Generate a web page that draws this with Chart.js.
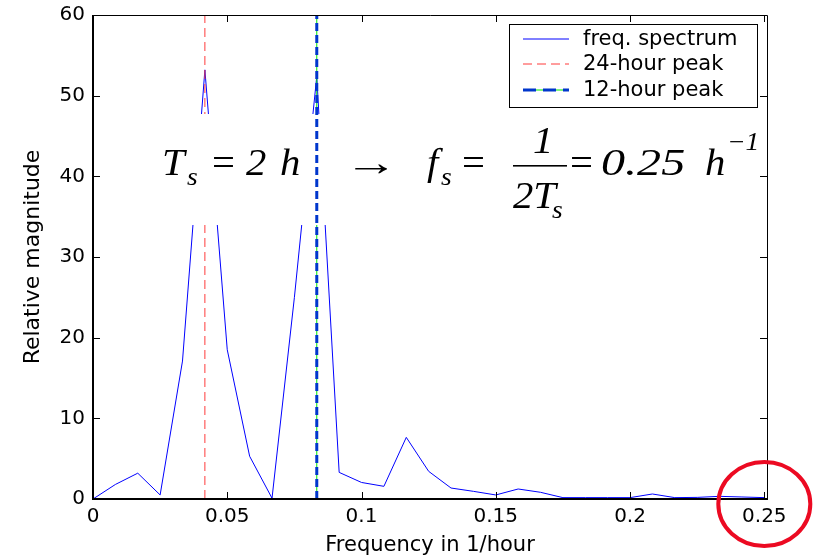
<!DOCTYPE html>
<html>
<head>
<meta charset="utf-8">
<script src="https://cdn.jsdelivr.net/npm/chart.js@4.4.1/dist/chart.umd.min.js"></script>
<style>
  body { margin: 0; background: #fff; }
</style>
</head>
<body>
<canvas id="spectrum" width="816" height="558"></canvas>
<script>
// FFT bins (1/hour) and their magnitude
const freqs = [0, 0.00833, 0.01667, 0.025, 0.03333, 0.04167, 0.05, 0.05833, 0.06667, 0.075,
  0.08333, 0.09167, 0.1, 0.10833, 0.11667, 0.125, 0.13333, 0.14167, 0.15, 0.15833,
  0.16667, 0.175, 0.18333, 0.19167, 0.2, 0.20833, 0.21667, 0.225, 0.23333, 0.24167, 0.25];
const magnitude = [0, 1.8, 3.2, 0.5, 17.1, 53.2, 18.5, 5.3, 0.1, 25,
  52.4, 3.3, 2.05, 1.57, 7.64, 3.43, 1.36, 0.95, 0.5, 1.24,
  0.83, 0.17, 0.17, 0.17, 0.17, 0.62, 0.17, 0.2, 0.33, 0.25, 0.17];

// expected peaks
const peak24 = 1 / 24;
const peak12 = 1 / 12;
const peakSpan = [0, 60];

const xTicks = [0, 0.05, 0.1, 0.15, 0.2, 0.25];
const xTickLabels = ["0", "0.05", "0.1", "0.15", "0.2", "0.25"];
const yTicks = [0, 10, 20, 30, 40, 50, 60];

const sans = "DejaVu Sans";
const serif = "Liberation Serif";

// white box with the sampling formula, drawn just before the 12-hour line
function drawFormula(ctx) {
  ctx.save();
  ctx.fillStyle = "#fff";
  ctx.fillRect(150, 114, 612, 111);
  ctx.fillStyle = "#000";
  ctx.textBaseline = "alphabetic";
  const put = (t, px, py, size, italic, sx) => {
    ctx.save();
    ctx.font = (italic ? "italic " : "") + size + 'px "' + serif + '"';
    ctx.translate(px, py);
    ctx.scale(sx || 1.1, 1);
    ctx.fillText(t, 0, 0);
    ctx.restore();
  };
  put("T", 162, 175, 37, true);
  put("s", 187, 185, 25, true);
  put("=", 212, 175, 37, false);
  put("2", 246, 175, 37, true);
  put("h", 280, 175, 37, true);
  put("\u2192", 344, 175, 37, false, 1.45);
  put("f", 427, 175, 37, true);
  put("s", 441, 185, 25, true);
  put("=", 462, 175, 37, false);
  put("1", 533, 153, 37, true);
  ctx.fillRect(513, 165, 54, 1.6);
  put("2T", 513, 208, 37, true);
  put("s", 552, 218, 25, true);
  put("=", 570, 175, 37, false);
  put("0.25", 601, 175, 37, true, 1.3);
  put("h", 705, 175, 37, true);
  put("\u22121", 727, 150, 25, true);
  ctx.restore();
}

const formulaLayer = {
  id: "formulaLayer",
  beforeDatasetDraw(chart, args) {
    if (args.index === 3) drawFormula(chart.ctx);
  }
};

const axesBox = {
  id: "axesBox",
  afterDraw(chart) {
    const { ctx, chartArea: a, scales: { x, y } } = chart;
    ctx.save();
    ctx.strokeStyle = "#000";
    ctx.lineWidth = 1;
    ctx.beginPath();
    xTicks.forEach(v => {
      const px = Math.round(x.getPixelForValue(v)) + 0.5;
      ctx.moveTo(px, a.bottom); ctx.lineTo(px, a.bottom - 7);
      ctx.moveTo(px, a.top); ctx.lineTo(px, a.top + 7);
    });
    yTicks.forEach(v => {
      const py = Math.round(y.getPixelForValue(v)) + 0.5;
      ctx.moveTo(a.left, py); ctx.lineTo(a.left + 7, py);
      ctx.moveTo(a.right, py); ctx.lineTo(a.right - 7, py);
    });
    ctx.stroke();

    // box: left and bottom a bit heavier
    ctx.beginPath();
    ctx.moveTo(a.left, a.top + 0.5); ctx.lineTo(a.right + 0.5, a.top + 0.5);
    ctx.lineTo(a.right + 0.5, a.bottom);
    ctx.stroke();
    ctx.lineWidth = 2;
    ctx.beginPath();
    ctx.moveTo(a.left, a.top); ctx.lineTo(a.left, a.bottom); ctx.lineTo(a.right + 1, a.bottom);
    ctx.stroke();

    // legend
    const lx = 509, ly = 24, lw = 248, lh = 83;
    ctx.fillStyle = "#fff";
    ctx.fillRect(lx, ly, lw, lh);
    ctx.lineWidth = 1;
    ctx.strokeRect(lx + 0.5, ly + 0.5, lw, lh);
    const rows = [39, 64, 90];
    const ds = chart.data.datasets;
    const sample = (d, ry) => {
      ctx.strokeStyle = d.borderColor;
      ctx.lineWidth = d.borderWidth;
      ctx.setLineDash(d.borderDash || []);
      ctx.beginPath();
      ctx.moveTo(523, ry); ctx.lineTo(569, ry);
      ctx.stroke();
    };
    sample(ds[0], rows[0]);
    sample(ds[1], rows[1]);
    sample(ds[2], rows[2]);
    sample({ borderColor: ds[3].borderColor, borderWidth: ds[3].borderWidth, borderDash: [13, 7] }, rows[2]);
    ctx.setLineDash([]);
    ctx.fillStyle = "#000";
    ctx.font = '21px "' + sans + '"';
    ctx.textBaseline = "middle";
    [ds[0].label, ds[1].label, ds[3].label].forEach((t, i) => ctx.fillText(t, 583, rows[i] + 0.5));

    // red circle around the 0.25 label
    ctx.strokeStyle = "#ec0a22";
    ctx.lineWidth = 4;
    ctx.beginPath();
    ctx.ellipse(x.getPixelForValue(0.25), y.getPixelForValue(0) + 5, 46, 42, 0, 0, Math.PI * 2);
    ctx.stroke();
    ctx.restore();
  }
};

const line = (label, xs, ys, color, width, dash, order) => ({
  label,
  data: xs.map((v, i) => ({ x: v, y: ys[i] })),
  showLine: true,
  borderColor: color,
  borderWidth: width,
  borderDash: dash,
  pointRadius: 0,
  order
});

new Chart(document.getElementById("spectrum"), {
  type: "scatter",
  data: {
    datasets: [
      line("freq. spectrum", freqs, magnitude, "#0000ff", 1, [], 4),
      line("24-hour peak", peakSpan.map(() => peak24), peakSpan, "#ff3b3b", 1, [9, 5], 3),
      line("12-hour peak", peakSpan.map(() => peak12), peakSpan, "#00e600", 1, [], 2),
      line("12-hour peak", peakSpan.map(() => peak12), peakSpan, "#0036cc", 3, [8, 4], 1)
    ]
  },
  options: {
    responsive: false,
    animation: false,
    devicePixelRatio: 1,
    layout: { autoPadding: false, padding: { top: 15, right: 49, left: 0, bottom: 0 } },
    plugins: { legend: { display: false }, tooltip: { enabled: false } },
    scales: {
      x: {
        type: "linear",
        min: 0,
        max: 0.251,
        afterBuildTicks: s => { s.ticks = xTicks.map(v => ({ value: v })); },
        afterFit: s => { s.height = 59; s.paddingLeft = 0; s.paddingRight = 0; },
        grid: { display: false, drawTicks: false },
        border: { display: false },
        ticks: {
          autoSkip: false, maxRotation: 0, padding: 6, color: "#000",
          font: { family: sans, size: 20 },
          callback: (v, i) => xTickLabels[i]
        },
        title: {
          display: true, text: "Frequency in 1/hour", color: "#000",
          font: { family: sans, size: 21 }, padding: { top: 0, bottom: 0 }
        }
      },
      y: {
        min: 0,
        max: 60,
        afterBuildTicks: s => { s.ticks = yTicks.map(v => ({ value: v })); },
        afterFit: s => { s.width = 93; s.paddingTop = 0; s.paddingBottom = 0; },
        grid: { display: false, drawTicks: false },
        border: { display: false },
        ticks: {
          padding: 8, color: "#000",
          font: { family: sans, size: 20 }
        },
        title: {
          display: true, text: "Relative magnitude", color: "#000",
          font: { family: sans, size: 22 }, padding: { top: 20, bottom: 0 }
        }
      }
    }
  },
  plugins: [formulaLayer, axesBox]
});
</script>
</body>
</html>
